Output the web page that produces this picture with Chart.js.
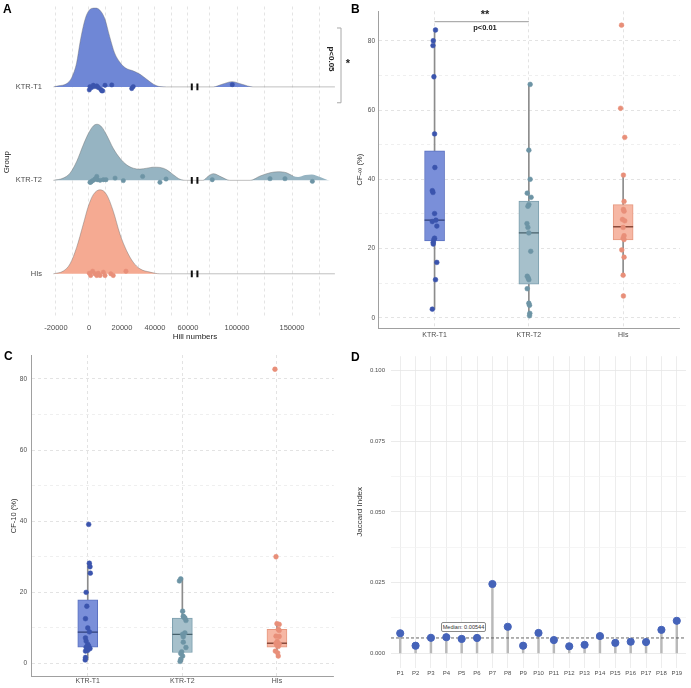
<!DOCTYPE html>
<html>
<head>
<meta charset="utf-8">
<script src="https://cdn.jsdelivr.net/npm/chart.js@4.4.1/dist/chart.umd.min.js"></script>
<style>
  body { margin: 0; background: #fff; font-family: "Liberation Sans", Arial, sans-serif; }
  #wrap { position: relative; width: 691px; height: 688px; overflow: hidden; }
  canvas { position: absolute; }
  .tag { position: absolute; font-weight: bold; font-size: 12px; line-height: 12px; color: #000; }
  .note { position: absolute; font-weight: bold; color: #222; white-space: nowrap; transform: translate(-50%, -50%); }
  #medianLabel { position: absolute; left: 441px; top: 622px; width: 43px; height: 8px; border: 1px solid #8a8a8a;
    border-radius: 2px; background: #fff; font-size: 5.6px; line-height: 8px; text-align: center; color: #333; }
</style>
</head>
<body>
<div id="wrap">
  <canvas id="hill" width="350" height="345" style="left:0;top:0"></canvas>
  <canvas id="cfinf" width="346" height="345" style="left:345px;top:0"></canvas>
  <canvas id="cf10" width="345" height="348" style="left:0;top:340px"></canvas>
  <canvas id="jaccard" width="346" height="348" style="left:345px;top:340px"></canvas>

  <div class="tag" style="left:3px;top:3px">A</div>
  <div class="tag" style="left:351px;top:3px">B</div>
  <div class="tag" style="left:4px;top:350px">C</div>
  <div class="tag" style="left:351px;top:351px">D</div>

  <div class="note" style="left:331px;top:59px;font-size:8px;transform:translate(-50%,-50%) rotate(90deg)">p&lt;0.05</div>
  <div class="note" style="left:348px;top:63px;font-size:11px">*</div>
  <div class="note" style="left:485px;top:14px;font-size:11px">**</div>
  <div class="note" style="left:485px;top:27px;font-size:7.5px">p&lt;0.01</div>
  <div id="medianLabel">Median: 0.00544</div>
</div>

<script>
// ---------- panel A: Hill numbers (ridgelines on a broken x axis) ----------
const ridgeGroups = ['HIs', 'KTR-T2', 'KTR-T1'];      // baselines 1, 2, 3
const hillGrid = [-20000, -10000, 0, 10000, 20000, 30000, 40000, 50000, 60000, 75000, 100000, 125000, 150000, 175000];
const hillMajor = [-20000, 0, 20000, 40000, 60000, 100000, 150000];
const hillBreak = [62300, 64000];

// density outlines (height in ridge-row units)
const t1DensX = [-21500, -18500, -13500, -10500, -7500, -5500, -3500, -1500, 1500, 4000, 6500, 9500, 12500, 15500, 19000, 22000, 27000, 31000, 35000, 39000, 43000, 47000, 62000, 65000, 78500, 86500, 95500, 104500, 114500, 189000];
const t1DensH = [0, 0.011, 0.035, 0.098, 0.257, 0.469, 0.646, 0.769, 0.839, 0.843, 0.822, 0.733, 0.540, 0.363, 0.257, 0.204, 0.169, 0.134, 0.081, 0.029, 0.003, 0, 0, 0, 0, 0.028, 0.056, 0.028, 0, 0];
const t2DensX = [-21600, -15600, -11500, -7500, -3500, -400, 2600, 5000, 7700, 10700, 14700, 18800, 22800, 26800, 30900, 35000, 39000, 43000, 47100, 51100, 55200, 59200, 69000, 74000, 78500, 86000, 93500, 112000, 121000, 130000, 137500, 145000, 151000, 155500, 162000, 168000, 175500, 184500, 189000];
const t2DensH = [0, 0.024, 0.077, 0.201, 0.378, 0.500, 0.582, 0.600, 0.571, 0.484, 0.342, 0.236, 0.166, 0.130, 0.120, 0.130, 0.141, 0.138, 0.113, 0.060, 0.011, 0, 0, 0.046, 0.071, 0.035, 0, 0, 0.046, 0.081, 0.092, 0.081, 0.046, 0.035, 0.056, 0.063, 0.035, 0, 0];
const hisDensX = [-21600, -15600, -11500, -7500, -3500, -400, 2600, 6700, 10700, 14700, 18800, 22800, 26800, 30900, 37000, 43000, 62000, 65000, 189000];
const hisDensH = [0, 0.029, 0.106, 0.282, 0.529, 0.723, 0.847, 0.899, 0.847, 0.670, 0.423, 0.247, 0.124, 0.053, 0.018, 0, 0, 0, 0];

// individual samples under each ridge, with their vertical jitter
const t1HillX = [200, 600, 1600, 2600, 3600, 4700, 5600, 7100, 7700, 8300, 9700, 13800, 25900, 26800, 95700];
const t1HillJit = [-0.032, 0.003, -0.007, 0.017, 0.003, 0.011, -0.007, -0.025, -0.042, -0.042, 0.017, 0.021, -0.018, 0.003, 0.024];
const t2HillX = [600, 1000, 1600, 2600, 3600, 4700, 5000, 6700, 8700, 10300, 15800, 20800, 32500, 43000, 46700, 77500, 130000, 143600, 168500];
const t2HillJit = [-0.021, -0.021, -0.011, 0, 0.014, 0.042, 0.007, 0, 0.007, 0.007, 0.024, -0.003, 0.042, -0.021, 0.014, 0.007, 0.018, 0.018, -0.011];
const hisHillX = [200, 1000, 2200, 3600, 4700, 5600, 6700, 8700, 9700, 13200, 14700, 22400];
const hisHillJit = [0.006, -0.018, 0.028, 0, -0.018, 0.006, -0.018, 0.017, -0.018, 0, -0.018, 0.028];

// ---------- panels B and C: box plots ----------
const groups = ['KTR-T1', 'KTR-T2', 'HIs'];

const cfInfT1 = [83.1, 80.0, 78.6, 69.6, 53.1, 43.4, 36.7, 36.2, 30.1, 28.2, 27.8, 26.5, 23.0, 22.6, 21.8, 21.3, 16.0, 11.0, 2.5];
const cfInfJitT1 = [0.010, -0.014, -0.017, -0.007, 0, 0.003, -0.024, -0.017, 0, 0.014, -0.024, 0.024, 0, -0.007, -0.014, -0.014, 0.024, 0.010, -0.024];
const cfInfT2 = [67.4, 48.4, 40.0, 36.0, 34.8, 32.7, 32.2, 27.2, 26.1, 24.5, 19.2, 12.0, 11.5, 11.0, 8.4, 4.2, 3.6, 1.3, 0.6];
const cfInfJitT2 = [0.014, 0, 0.014, -0.017, 0.024, 0, -0.010, -0.020, -0.010, 0, 0.020, -0.017, -0.007, 0, -0.017, 0, 0.007, 0.010, 0.007];
const cfInfHIs = [84.5, 60.5, 52.1, 41.2, 33.6, 31.3, 30.8, 28.4, 28.0, 26.1, 23.7, 23.0, 22.6, 19.6, 17.5, 12.3, 6.3];
const cfInfJitHIs = [-0.017, -0.027, 0.017, 0.003, 0.010, 0.003, 0.010, -0.007, 0.017, 0, 0.010, 0, 0.010, -0.014, 0.010, 0, 0.003];
const cfInfQ1 = [22.2, 9.7, 22.5];
const cfInfMed = [28.2, 24.5, 26.3];
const cfInfQ3 = [48.2, 33.7, 32.7];
const cfInfLow = [2.5, 0.6, 12.3];
const cfInfHigh = [83.1, 67.4, 41.2];

const cf10T1 = [39.1, 28.2, 27.2, 25.4, 20.0, 16.1, 12.6, 10.0, 8.9, 7.2, 6.3, 5.4, 4.9, 4.6, 4.2, 3.7, 3.5, 1.7, 1.0];
const cf10JitT1 = [0.010, 0.017, 0.024, 0.027, -0.017, -0.010, -0.024, 0, 0.017, -0.024, -0.017, 0, 0.010, -0.017, 0.024, 0, -0.024, -0.024, -0.027];
const cf10T2 = [23.8, 23.2, 14.7, 13.3, 13.0, 12.8, 12.1, 8.6, 8.2, 7.5, 6.0, 4.5, 3.3, 2.8, 2.1, 1.2, 0.6];
const cf10JitT2 = [-0.017, -0.031, 0.003, 0.010, 0.017, 0.027, 0.038, 0.027, 0.003, 0.010, 0.010, 0.038, -0.007, -0.017, 0.003, -0.017, -0.024];
const cf10HIs = [82.7, 30.0, 11.2, 11.0, 9.6, 9.3, 7.7, 7.6, 6.2, 5.7, 5.5, 5.1, 4.8, 3.5, 3.0, 2.1];
const cf10JitHIs = [-0.021, -0.010, 0, 0.024, 0.014, 0.024, -0.010, 0.024, 0.003, -0.010, 0.024, 0, 0.014, -0.017, 0.007, 0.014];
const cf10Q1 = [4.6, 3.1, 4.6];
const cf10Med = [8.8, 8.2, 5.7];
const cf10Q3 = [17.9, 12.8, 9.6];
const cf10Low = [1.0, 0.6, 2.1];
const cf10High = [28.2, 23.8, 11.2];

// ---------- panel D: Jaccard index per patient ----------
const patients = ['P1', 'P2', 'P3', 'P4', 'P5', 'P6', 'P7', 'P8', 'P9', 'P10', 'P11', 'P12', 'P13', 'P14', 'P15', 'P16', 'P17', 'P18', 'P19'];
const jaccard = [0.0071, 0.0027, 0.0055, 0.0057, 0.0051, 0.00544, 0.0245, 0.0094, 0.0027, 0.0072, 0.0047, 0.0025, 0.0030, 0.0061, 0.0037, 0.0041, 0.0040, 0.0083, 0.0115];
const jaccardMedian = 0.00544;
const jaccardTicks = [0, 0.0125, 0.025, 0.0375, 0.05, 0.0625, 0.075, 0.0875, 0.1];

// colours: KTR-T1, KTR-T2, HIs
const ridgeFill = ['#6f87d6', '#96b4c2', '#f5aa92'];
const boxFill = ['#7a8fd9', '#a6c0cb', '#f6b7a4'];
const boxEdge = ['#5a70c0', '#7c9fae', '#e6987f'];
const medColor = ['#2f3f78', '#46606b', '#8a4a3a'];
const dotColor = ['#3b54ad', '#6d94a5', '#e88f79'];

Chart.defaults.font.family = '"Liberation Sans", Arial, sans-serif';
Chart.defaults.color = '#4d4d4d';

// broken axis: left part 1:1, right part compressed after a small gap
function squashHill(v) {
  if (v <= hillBreak[0]) return v;
  return hillBreak[0] + 3400 + (v - hillBreak[1]) * 0.6667;
}
function stretchHill(d) {
  if (d <= hillBreak[0]) return d;
  return hillBreak[1] + (d - hillBreak[0] - 3400) / 0.6667;
}
class BrokenScale extends Chart.LinearScale {
  getPixelForValue(value) {
    return value === null ? NaN : super.getPixelForValue(squashHill(value));
  }
  getValueForPixel(pixel) {
    return stretchHill(super.getValueForPixel(pixel));
  }
}
BrokenScale.id = 'broken';
BrokenScale.defaults = {};
Chart.register(BrokenScale);

function base(padding) {
  return {
    responsive: false, animation: false, events: [], devicePixelRatio: 1,
    layout: {padding: padding},
    plugins: {legend: {display: false}, tooltip: {enabled: false}}
  };
}

const bracketPlugin = {
  id: 'bracket',
  afterDatasetsDraw(chart, args, opts) {
    const {ctx, chartArea, scales: {y}} = chart;
    const xr = chartArea.right + 3;
    const y0 = y.getPixelForValue(opts.from), y1 = y.getPixelForValue(opts.to);
    ctx.save();
    ctx.strokeStyle = '#a8a8a8';
    ctx.lineWidth = 1;
    ctx.beginPath();
    ctx.moveTo(xr - 4, y0); ctx.lineTo(xr, y0); ctx.lineTo(xr, y1); ctx.lineTo(xr - 4, y1);
    ctx.stroke();
    ctx.restore();
  }
};

const sigLinePlugin = {
  id: 'sigLine',
  afterDatasetsDraw(chart, args, opts) {
    const {ctx, scales: {x, y}} = chart;
    const yy = y.getPixelForValue(opts.at);
    ctx.save();
    ctx.strokeStyle = '#9a9a9a';
    ctx.lineWidth = 1;
    ctx.beginPath();
    ctx.moveTo(x.getPixelForValue(opts.from), yy);
    ctx.lineTo(x.getPixelForValue(opts.to), yy);
    ctx.stroke();
    ctx.restore();
  }
};

// ---- A ----
function ridge(xs, hs, row, i) {
  return {
    type: 'line',
    data: xs.map((x, k) => ({x: x, y: row + hs[k]})),
    fill: {value: row},
    backgroundColor: ridgeFill[i],
    borderColor: 'rgba(110,110,110,0.55)',
    borderWidth: 0.8,
    pointRadius: 0,
    cubicInterpolationMode: 'monotone'
  };
}
function ridgeDots(xs, jit, row, i) {
  return {
    type: 'scatter',
    data: xs.map((x, k) => ({x: x, y: row + jit[k]})),
    backgroundColor: dotColor[i],
    borderColor: dotColor[i],
    borderWidth: 0.5,
    pointRadius: 2.2
  };
}

const hillOpts = base({left: 0, right: 12, top: 3, bottom: 0});
hillOpts.plugins.bracket = {from: 2.83, to: 3.63};
hillOpts.scales = {
  x: {
    type: 'broken', min: -22424, max: 150909, bounds: 'data',
    afterBuildTicks: s => { s.ticks = hillGrid.map(v => ({value: v})); },
    afterFit: s => { s.height = 27; },
    grid: {color: '#dedede', lineWidth: 0.8, drawTicks: false},
    border: {display: false, dash: [3, 3]},
    ticks: {autoSkip: false, maxRotation: 0, padding: 5, font: {size: 7.5}, color: '#4d4d4d',
      callback: v => hillMajor.includes(v) ? String(v) : ''},
    title: {display: true, text: 'Hill numbers', color: '#222', font: {size: 8}, padding: {top: 0, bottom: 3}}
  },
  y: {
    type: 'linear', min: 0.527, max: 3.86,
    afterBuildTicks: s => { s.ticks = [1, 2, 3].map(v => ({value: v})); },
    afterFit: s => { s.width = 52; },
    grid: {display: false},
    border: {display: false},
    ticks: {padding: 2, font: {size: 7.5}, color: '#4d4d4d', callback: v => ridgeGroups[v - 1]},
    title: {display: true, text: 'Group', color: '#222', font: {size: 8}, padding: {top: 2, bottom: 0}}
  }
};

new Chart(document.getElementById('hill'), {
  type: 'scatter',
  data: {
    datasets: [
      ridgeDots(t1HillX, t1HillJit, 3, 0),
      ridgeDots(t2HillX, t2HillJit, 2, 1),
      ridgeDots(hisHillX, hisHillJit, 1, 2),
      {
        type: 'scatter',
        data: [1, 2, 3].flatMap(r => hillBreak.map(x => ({x: x, y: r}))),
        pointStyle: 'line', rotation: 90, pointRadius: 3.4,
        borderColor: '#111', borderWidth: 2
      },
      ridge(t1DensX, t1DensH, 3, 0),
      ridge(t2DensX, t2DensH, 2, 1),
      ridge(hisDensX, hisDensH, 1, 2)
    ]
  },
  options: hillOpts,
  plugins: [bracketPlugin]
});

// ---- B and C ----
function boxDatasets(values, jitters, q1, med, q3, low, high) {
  const sets = values.map((vals, g) => ({
    type: 'scatter',
    data: vals.map((v, k) => ({x: g + 1 + jitters[g][k], y: v})),
    backgroundColor: dotColor[g], borderColor: dotColor[g], borderWidth: 0.5, pointRadius: 2.4
  }));
  sets.push({
    type: 'scatter',
    data: med.map((m, g) => ({x: g + 1, y: m})),
    pointStyle: 'line', pointRadius: 10, borderWidth: 1.3, borderColor: medColor
  });
  sets.push({
    type: 'bar',
    data: q1.map((q, g) => ({x: g + 1, y: [q, q3[g]]})),
    backgroundColor: boxFill, borderColor: boxEdge, borderWidth: 1, borderSkipped: false,
    barThickness: 20, grouped: false
  });
  sets.push({
    type: 'bar',
    data: low.map((l, g) => ({x: g + 1, y: [l, high[g]]})),
    backgroundColor: '#8c8c8c', borderWidth: 0, barThickness: 1, grouped: false
  });
  return sets;
}

function boxOptions(padding, yMin, yMax, yTitle, titlePad, tickPad, xPad, xHeight, yWidth) {
  const o = base(padding);
  o.scales = {
    x: {
      type: 'linear', min: 0.4, max: 3.6, offset: false,
      afterBuildTicks: s => { s.ticks = [1, 2, 3].map(v => ({value: v})); },
      afterFit: s => { s.height = xHeight; },
      grid: {color: '#dcdcdc', lineWidth: 0.8, drawTicks: false, offset: false},
      border: {display: true, color: '#a0a0a0', width: 1, dash: [3, 3]},
      ticks: {padding: xPad, font: {size: 7}, color: '#4d4d4d', callback: v => groups[v - 1]}
    },
    y: {
      type: 'linear', min: yMin, max: yMax,
      afterBuildTicks: s => { s.ticks = [0, 10, 20, 30, 40, 50, 60, 70, 80].map(v => ({value: v})); },
      afterFit: s => { s.width = yWidth; },
      grid: {color: c => c.tick && c.tick.value % 20 === 0 ? '#dcdcdc' : '#ebebeb', lineWidth: 0.8, drawTicks: false},
      border: {display: true, color: '#a0a0a0', width: 1, dash: [3, 3]},
      ticks: {padding: tickPad, font: {size: 6.5}, color: '#4d4d4d', callback: v => v % 20 === 0 ? String(v) : ''},
      title: {display: true, text: yTitle, color: '#333', font: {size: 7.5}, padding: {top: titlePad, bottom: 0}}
    }
  };
  return o;
}

const cfInfOpts = boxOptions({left: 0, right: 1, top: 8, bottom: 0}, -2.94, 88.5, 'CF-∞ (%)', 10, 3, 3, 17, 33);
cfInfOpts.plugins.sigLine = {from: 1, to: 2, at: 85.5};
new Chart(document.getElementById('cfinf'), {
  type: 'bar',
  data: {datasets: boxDatasets([cfInfT1, cfInfT2, cfInfHIs], [cfInfJitT1, cfInfJitT2, cfInfJitHIs],
    cfInfQ1, cfInfMed, cfInfQ3, cfInfLow, cfInfHigh)},
  options: cfInfOpts,
  plugins: [sigLinePlugin]
});

new Chart(document.getElementById('cf10'), {
  type: 'bar',
  data: {datasets: boxDatasets([cf10T1, cf10T2, cf10HIs], [cf10JitT1, cf10JitT2, cf10JitHIs],
    cf10Q1, cf10Med, cf10Q3, cf10Low, cf10High)},
  options: boxOptions({left: 0, right: 4.3, top: 15, bottom: 0}, -3.7, 86.7, 'CF-10 (%)', 9, 4, 0, 8.7, 31)
});

// ---- D ----
const jacOpts = base({left: 0, right: 4, top: 16.2, bottom: 0});
jacOpts.scales = {
  x: {
    type: 'linear', min: 0.4, max: 19.6, offset: false,
    afterBuildTicks: s => { s.ticks = patients.map((p, i) => ({value: i + 1})); },
    afterFit: s => { s.height = 20.5; },
    grid: {color: '#e8e8e8', lineWidth: 0.8, drawTicks: false, offset: false},
    border: {display: false},
    ticks: {autoSkip: false, maxRotation: 0, padding: 2, font: {size: 6}, color: '#4d4d4d', callback: v => patients[v - 1]}
  },
  y: {
    type: 'linear', min: -0.005, max: 0.105,
    afterBuildTicks: s => { s.ticks = jaccardTicks.map(v => ({value: v})); },
    afterFit: s => { s.width = 46; },
    grid: {color: c => c.index % 2 === 0 ? '#e6e6e6' : '#f3f3f3', lineWidth: 0.8, drawTicks: false},
    border: {display: false},
    ticks: {padding: 6, font: {size: 6}, color: '#4d4d4d', callback: (v, i) => i % 2 === 0 ? v.toFixed(3) : ''},
    title: {display: true, text: 'Jaccard Index', color: '#333', font: {size: 8}, padding: {top: 10, bottom: 0}}
  }
};
new Chart(document.getElementById('jaccard'), {
  type: 'bar',
  data: {
    datasets: [
      {
        type: 'scatter',
        data: jaccard.map((v, i) => ({x: i + 1, y: v})),
        backgroundColor: '#4563b9', borderColor: '#4563b9', pointRadius: 3.6
      },
      {
        type: 'line',
        data: [{x: 0.4, y: jaccardMedian}, {x: 19.6, y: jaccardMedian}],
        borderColor: '#555', borderWidth: 0.9, borderDash: [3, 2], pointRadius: 0, fill: false
      },
      {
        type: 'bar',
        data: jaccard.map((v, i) => ({x: i + 1, y: [0, v]})),
        backgroundColor: '#b9b9b9', borderWidth: 0, barThickness: 1.8
      }
    ]
  },
  options: jacOpts
});
</script>
</body>
</html>
